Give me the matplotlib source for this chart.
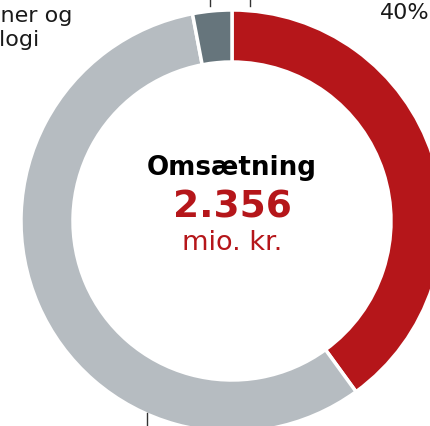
import matplotlib
matplotlib.use("Agg")
import matplotlib.pyplot as plt

plt.rcParams["font.family"] = ["DejaVu Sans"]

# Data
segments = ["Red segment", "Øvrige", "Maskiner og teknologi"]
shares = [40, 57, 3]
colors = ["#B5161A", "#B6BCC1", "#66757C"]
center_title = "Omsætning"
center_value = "2.356"
center_unit = "mio. kr."
pct_label = "40%"
side_label = "Maskiner og\nteknologi"

W, H = 431, 426
fig = plt.figure(figsize=(W / 100, H / 100), dpi=100)
ax = fig.add_axes([0, 0, 1, 1])

cx, cy = 232, H - 221
R = 211
ax.pie(shares, colors=colors, startangle=90, counterclock=False,
       center=(cx, cy), radius=R, frame=True,
       wedgeprops=dict(width=52, edgecolor="white", linewidth=2.5))

ax.set_xlim(0, W)
ax.set_ylim(0, H)
ax.set_aspect("equal")
ax.axis("off")

# center text
ax.text(cx, H - 175, center_title, ha="center", va="baseline",
        fontsize=18.8, fontweight="bold", color="black")
ax.text(cx, H - 217.5, center_value, ha="center", va="baseline",
        fontsize=27, fontweight="bold", color="#B5161A")
ax.text(cx, H - 250, center_unit, ha="center", va="baseline",
        fontsize=19.5, color="#B5161A")

# outer labels (partly outside the view)
ax.text(380, H - 19, pct_label, ha="left", va="baseline", fontsize=16, color="#1a1a1a")
ax.text(72, H - 45.5, side_label, ha="right", va="baseline", multialignment="left",
        fontsize=16, color="#1a1a1a", linespacing=1.2)

# leader lines
lc = "#333333"
ax.plot([210, 210], [H, H - 6], color=lc, lw=1)
ax.plot([250, 250], [H, H - 6], color=lc, lw=1)
ax.plot([147, 147], [H - 413, 0], color=lc, lw=1)

fig.savefig("out.png", dpi=100)
